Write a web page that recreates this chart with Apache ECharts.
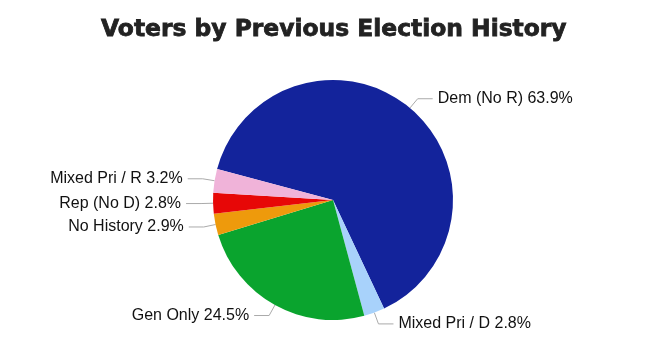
<!DOCTYPE html>
<html><head><meta charset="utf-8">
<script src="https://cdn.jsdelivr.net/npm/echarts@6/dist/echarts.min.js"></script>
<style>html,body{margin:0;padding:0;background:#fff}#c{width:659px;height:363px}</style>
</head><body><div id="c"></div>
<script>
const categories = ["Dem (No R)", "Mixed Pri / D", "Gen Only", "No History", "Rep (No D)", "Mixed Pri / R"];
const values = [63.9, 2.8, 24.5, 2.9, 2.8, 3.2];
const colors = ["#13239b", "#a8d2fb", "#0aa42e", "#ee9a0c", "#e70707", "#f0b3d9"];
const chart = echarts.init(document.getElementById('c'));
chart.setOption({
  animation: false,
  title: {text: "Voters by Previous Election History", left: 96, top: 13,
    textStyle: {fontFamily: "DejaVu Sans", fontWeight: 'bold', fontSize: 23.4, color: '#222',
      textBorderColor: '#222', textBorderWidth: 0.8}},
  series: [{
    type: 'pie', center: [333, 200], radius: 120, startAngle: 165, clockwise: true,
    data: categories.map((n, i) => ({name: n, value: values[i], itemStyle: {color: colors[i]}})),
    label: {formatter: p => p.name + ' ' + p.value.toFixed(1) + '%', fontFamily: 'Liberation Sans', fontSize: 16, color: '#111'},
    labelLine: {length: 12, length2: 15, lineStyle: {color: '#aaa', width: 1}},
    itemStyle: {borderWidth: 0}
  }]
});
</script></body></html>
